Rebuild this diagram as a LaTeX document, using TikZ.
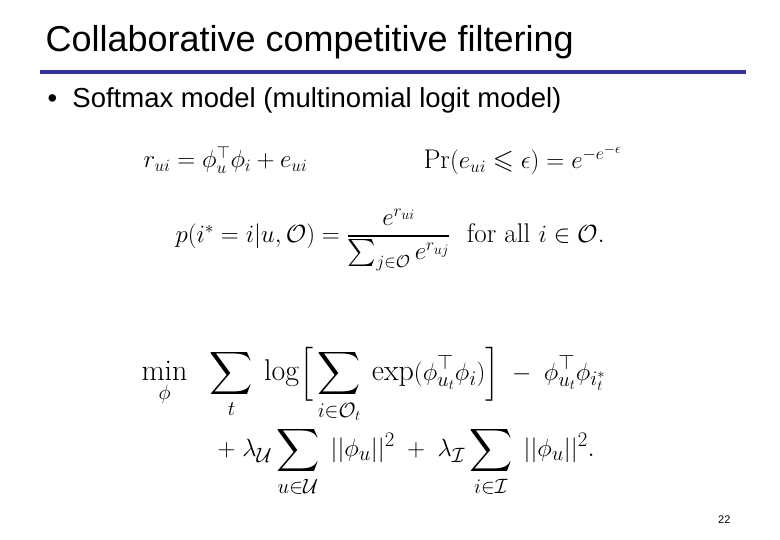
\documentclass[tikz,border=0pt]{standalone}
\usepackage{amsmath,amssymb}
\usepackage{fontspec}
\setsansfont{Liberation Sans}
\begin{document}
\begin{tikzpicture}[x=1pt,y=-1pt,
  ttl/.style={anchor=west,font=\sffamily\fontsize{36}{40}\selectfont},
  txt/.style={anchor=west,font=\sffamily\fontsize{27.5}{30}\selectfont},
  eq/.style={anchor=west,font=\fontsize{27}{32}\selectfont},
  eqb/.style={anchor=west,font=\fontsize{30}{36}\selectfont}]
\useasboundingbox[fill=white] (0,0) rectangle (780,540);
\node[ttl] (title) at (42,42) {Collaborative competitive filtering};
\draw[line width=3.5pt,color={rgb,255:red,51;green,51;blue,153}] (40,72) -- (746,72);
\node[txt] (b) at (44,100) {\textbullet\ \ Softmax model (multinomial logit model)};
\node[eq] (e1) at (140,160) {$r_{ui}=\phi_u^\top\phi_i+e_{ui}$};
\node[eq] (e2) at (420,160) {$\Pr(e_{ui}\leqslant\epsilon)=e^{-e^{-\epsilon}}$};
\node[eq] (e3) at (172,240) {$p(i^*=i|u,\mathcal{O})=\dfrac{e^{r_{ui}}}{\sum_{j\in\mathcal{O}}e^{r_{uj}}}\ \ \text{for all } i\in\mathcal{O}.$};
\node[eqb] (e4) at (138,385) {$\displaystyle\min_{\phi}\ \ \sum_t\;\log\Bigl[\,\sum_{i\in\mathcal{O}_t}\;\exp(\phi_{u_t}^\top\phi_i)\Bigr]\;-\;\phi_{u_t}^\top\phi_{i_t^*}$};
\node[eqb] (e5) at (214,462) {$\displaystyle+\;\lambda_{\mathcal{U}}\sum_{u\in\mathcal{U}}\;||\phi_u||^2\;+\;\lambda_{\mathcal{I}}\sum_{i\in\mathcal{I}}\;||\phi_u||^2.$};
\node[anchor=east,font=\sffamily\fontsize{11}{13}\selectfont] (pg) at (734,520) {22};
\end{tikzpicture}
\end{document}
